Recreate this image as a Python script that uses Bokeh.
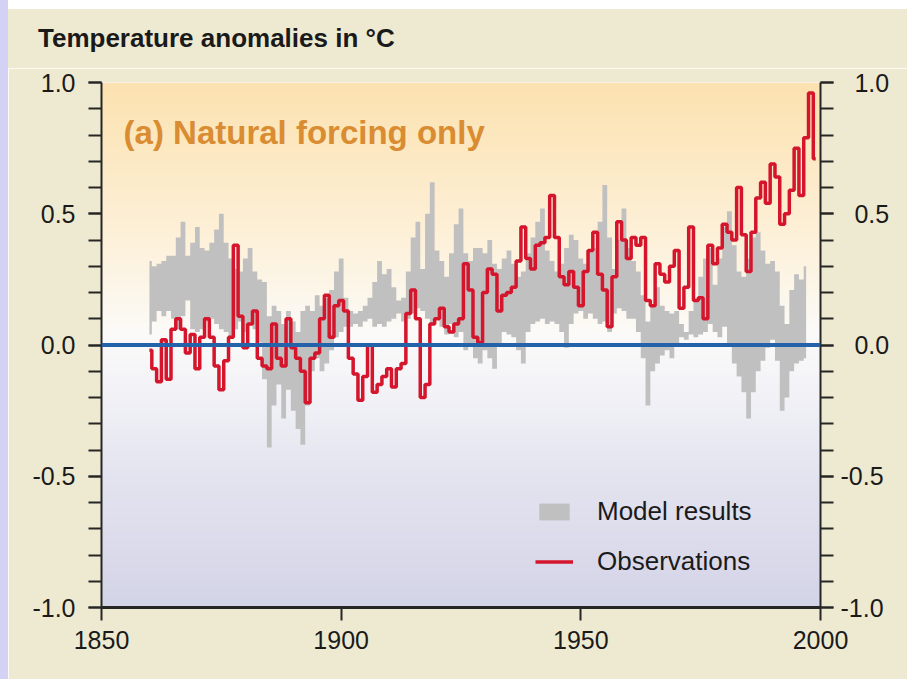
import numpy as np
from bokeh.plotting import figure
from bokeh.layouts import row, column
from bokeh.models import (Range1d, LinearAxis, SingleIntervalTicker, FixedTicker,
                          PrintfTickFormatter, Span, Label, Legend, LegendItem, Spacer, Div)
from bokeh.embed import file_html
from bokeh.resources import INLINE

# ---------------- data ----------------
obs_years = list(range(1860, 2000))
observations = [
    -0.02, -0.09, -0.14, 0.02, -0.13, 0.06, 0.10, 0.06, -0.03, 0.04,
    -0.09, 0.03, 0.10, 0.03, -0.08, -0.17, -0.06, 0.03, 0.38, 0.11,
    -0.01, 0.08, 0.13, -0.05, -0.08, -0.09, 0.08, -0.05, -0.08, 0.10,
    -0.01, -0.05, -0.10, -0.22, -0.05, -0.03, 0.10, 0.19, 0.03, 0.15,
    0.17, 0.13, -0.05, -0.11, -0.21, -0.12, 0.00, -0.18, -0.15, -0.12,
    -0.09, -0.16, -0.09, -0.07, 0.12, 0.21, 0.10, -0.20, -0.15, 0.08,
    0.10, 0.14, 0.07, 0.05, 0.08, 0.10, 0.31, 0.21, 0.03, 0.01,
    0.20, 0.29, 0.27, 0.13, 0.19, 0.20, 0.22, 0.32, 0.45, 0.33,
    0.29, 0.38, 0.39, 0.41, 0.57, 0.41, 0.26, 0.23, 0.28, 0.22,
    0.15, 0.28, 0.36, 0.43, 0.27, 0.21, 0.07, 0.26, 0.47, 0.40,
    0.33, 0.41, 0.38, 0.41, 0.17, 0.15, 0.31, 0.27, 0.24, 0.30,
    0.36, 0.14, 0.22, 0.45, 0.17, 0.18, 0.10, 0.38, 0.31, 0.37,
    0.46, 0.43, 0.40, 0.60, 0.42, 0.28, 0.43, 0.56, 0.62, 0.54,
    0.69, 0.64, 0.46, 0.50, 0.59, 0.75, 0.57, 0.79, 0.96, 0.71,
]

model_years = list(range(1860, 1998))
model_high = [
    0.32, 0.30, 0.31, 0.32, 0.34, 0.34, 0.41, 0.47, 0.34, 0.39,
    0.45, 0.37, 0.36, 0.39, 0.44, 0.50, 0.39, 0.33, 0.29, 0.28,
    0.33, 0.37, 0.28, 0.25, 0.24, 0.11, 0.15, 0.13, 0.08, 0.13,
    0.09, 0.05, 0.13, 0.15, 0.13, 0.19, 0.15, 0.18, 0.21, 0.28,
    0.33, 0.18, 0.13, 0.12, 0.13, 0.15, 0.18, 0.24, 0.32, 0.27,
    0.29, 0.22, 0.17, 0.18, 0.28, 0.41, 0.47, 0.29, 0.50, 0.62,
    0.36, 0.32, 0.26, 0.35, 0.46, 0.52, 0.35, 0.32, 0.37, 0.37,
    0.35, 0.40, 0.31, 0.29, 0.33, 0.36, 0.31, 0.26, 0.28, 0.35,
    0.41, 0.47, 0.52, 0.36, 0.32, 0.28, 0.31, 0.37, 0.42, 0.40,
    0.33, 0.31, 0.36, 0.37, 0.47, 0.61, 0.41, 0.29, 0.40, 0.52,
    0.37, 0.32, 0.28, 0.19, 0.09, 0.15, 0.22, 0.15, 0.13, 0.12,
    0.13, 0.08, 0.05, 0.13, 0.17, 0.26, 0.33, 0.37, 0.23, 0.33,
    0.45, 0.51, 0.38, 0.28, 0.26, 0.33, 0.41, 0.43, 0.36, 0.31,
    0.32, 0.28, 0.15, 0.08, 0.21, 0.27, 0.25, 0.30,
]
model_low = [
    0.04, 0.09, 0.13, 0.11, 0.13, 0.10, 0.06, 0.11, 0.17, 0.06,
    0.05, 0.06, 0.09, 0.10, 0.08, 0.06, 0.05, 0.03, 0.06, 0.09,
    0.05, 0.08, 0.06, 0.01, -0.13, -0.39, -0.23, -0.15, -0.28, -0.17,
    -0.25, -0.32, -0.38, -0.23, -0.10, -0.05, -0.10, -0.07, -0.02, 0.03,
    0.05, 0.07, 0.07, 0.08, 0.07, 0.09, 0.10, 0.07, 0.08, 0.07,
    0.09, 0.10, 0.12, 0.09, 0.10, 0.12, 0.14, 0.13, 0.10, 0.08,
    0.10, 0.07, 0.04, 0.08, 0.03, 0.05, -0.02, 0.00, -0.05, -0.07,
    -0.02, -0.05, -0.09, 0.00, 0.05, 0.04, 0.03, -0.02, -0.07, 0.05,
    0.08, 0.09, 0.10, 0.08, 0.09, 0.08, 0.05, -0.01, 0.08, 0.12,
    0.13, 0.10, 0.12, 0.10, 0.08, 0.09, 0.05, 0.12, 0.14, 0.13,
    0.10, 0.10, 0.05, -0.05, -0.23, -0.10, -0.07, -0.04, -0.02, -0.05,
    0.00, 0.03, 0.02, 0.04, 0.03, 0.04, 0.05, 0.08, 0.05, 0.03,
    0.07, 0.00, -0.07, -0.12, -0.18, -0.28, -0.18, -0.10, -0.06, -0.01,
    0.02, -0.06, -0.25, -0.20, -0.10, -0.07, -0.06, -0.05,
]

x_ticks = [1850, 1900, 1950, 2000]
title_text = "Temperature anomalies in \u00b0C"
panel_text = "(a) Natural forcing only"
legend_labels = ["Model results", "Observations"]

# ---------------- figure ----------------
FONT = "Liberation Sans"
BEIGE = "#eeead1"
fig = figure(width=899, height=611, output_backend="svg", toolbar_location=None,
             x_range=Range1d(1850, 2000), y_range=Range1d(-1, 1),
             min_border_left=93, min_border_right=87, min_border_top=14,
             min_border_bottom=72)
fig.border_fill_color = BEIGE
fig.background_fill_color = "#fbfaf6"
fig.outline_line_color = None
fig.grid.visible = False

# background gradient (orange at top, white near 0, lavender at bottom)
stops_v = [-1.0, -0.5, -0.1, 0.05, 0.3, 0.6, 1.0]
stops_c = [(212, 212, 232), (228, 228, 240), (246, 246, 249), (252, 251, 248),
           (253, 244, 226), (253, 236, 204), (252, 226, 176)]
rows = 300
vals = np.linspace(-1, 1, rows)
img = np.zeros((rows, 1), dtype=np.uint32)
view = img.view(dtype=np.uint8).reshape((rows, 1, 4))
for ch in range(3):
    view[:, 0, ch] = np.interp(vals, stops_v, [c[ch] for c in stops_c]).astype(np.uint8)
view[:, 0, 3] = 255
fig.image_rgba(image=[img], x=1850, y=-1, dw=150, dh=2)

band = fig.varea_step(x=model_years, y1=model_low, y2=model_high, step_mode="center",
                      fill_color="#c1c0c0", fill_alpha=1.0)
obs = fig.step(x=obs_years, y=observations, mode="center",
               line_color="#d5152c", line_width=3.5)

fig.add_layout(Span(location=0, dimension="width", line_color="#2462a9", line_width=4))

# axes
yl = fig.yaxis[0]
yr = LinearAxis()
fig.add_layout(yr, "right")
for ax in (yl, yr):
    ax.ticker = SingleIntervalTicker(interval=0.5, num_minor_ticks=5)
    ax.formatter = PrintfTickFormatter(format="%.1f")
    ax.major_tick_out = 13
    ax.major_tick_in = 0
    ax.minor_tick_out = 13
    ax.minor_tick_in = 0
    ax.axis_line_width = 2
    ax.axis_line_color = "#262626"
    ax.major_tick_line_width = 2
    ax.minor_tick_line_width = 2
    ax.major_tick_line_color = "#262626"
    ax.minor_tick_line_color = "#262626"
    ax.major_label_text_font = FONT
    ax.major_label_text_font_size = "25px"
    ax.major_label_text_color = "#1a1a1a"
yl.major_label_standoff = 13
yr.major_label_standoff = 7
# right-hand labels are right-aligned in the original: pad the unsigned ones
yr.major_label_overrides = {1.0: "\u20071.0", 0.5: "\u20070.5", 0.0: "\u20070.0"}

xa = fig.xaxis[0]
xa.ticker = FixedTicker(ticks=x_ticks)
xa.major_tick_out = 13
xa.major_tick_in = 0
xa.minor_tick_out = 0
xa.axis_line_width = 3
xa.axis_line_color = "#262626"
xa.major_tick_line_width = 2
xa.major_tick_line_color = "#262626"
xa.major_label_text_font = FONT
xa.major_label_text_font_size = "25px"
xa.major_label_text_color = "#1a1a1a"
xa.major_label_standoff = 10

fig.add_layout(Label(x=1854.6, y=0.81, text=panel_text, text_font=FONT,
                     text_font_size="33px", text_font_style="bold",
                     text_color="#d98c31", text_baseline="alphabetic"))

legend = Legend(items=[LegendItem(label=legend_labels[0], renderers=[band]),
                       LegendItem(label=legend_labels[1], renderers=[obs])],
                location=(434, 30), background_fill_alpha=0, border_line_alpha=0,
                label_text_font=FONT, label_text_font_size="26px",
                label_text_color="#1a1a1a", glyph_width=38, glyph_height=21,
                label_height=21, label_standoff=24, spacing=19, padding=0, margin=0)
fig.add_layout(legend)

title_div = Div(
    text=('<div style="margin:0;padding:14px 0 0 30px;white-space:nowrap;'
          'font-family:\'Liberation Sans\';font-size:26px;font-weight:bold;'
          'line-height:30px;color:#1a1a1a">' + title_text + '</div>'),
    width=899, height=59, margin=0, styles={"background-color": BEIGE})

p = row(Spacer(width=8, height=679, margin=0, styles={"background-color": "#d3d2f5"}),
        column(Spacer(width=899, height=9, margin=0), title_div, fig))

open("out.html", "w").write(file_html(p, INLINE))
